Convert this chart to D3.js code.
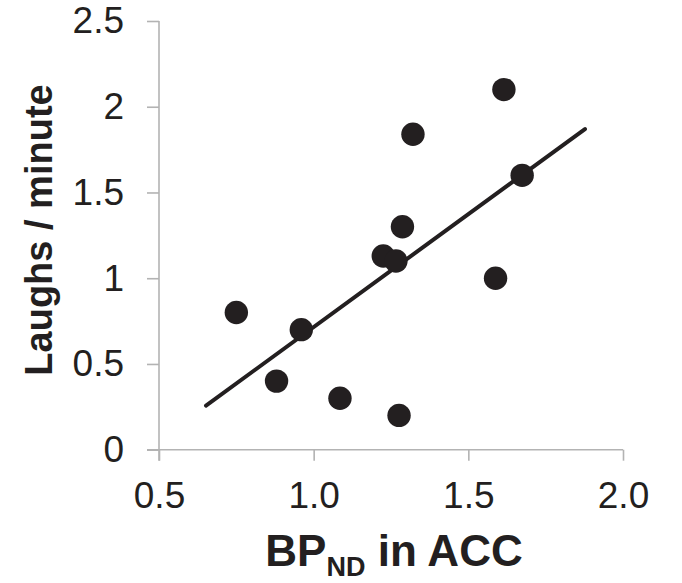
<!DOCTYPE html>
<html><head><meta charset="utf-8">
<script src="https://cdn.jsdelivr.net/npm/d3@7"></script>
<style>body{margin:0;background:#fff}svg{display:block}</style>
</head><body>
<script>
const bpND = [0.75, 0.88, 0.96, 1.085, 1.225, 1.266, 1.287, 1.276, 1.321, 1.588, 1.615, 1.674];
const laughs = [0.80, 0.40, 0.70, 0.30, 1.13, 1.10, 1.30, 0.20, 1.84, 1.00, 2.10, 1.60];
const trendX = [0.652, 1.877];
const trendY = [0.257, 1.870];
const xTicks = [0.5, 1.0, 1.5, 2.0];
const yTicks = [0, 0.5, 1, 1.5, 2, 2.5];

const W = 682, H = 583;
const svg = d3.select("body").append("svg").attr("width", W).attr("height", H);
const x = d3.scaleLinear().domain([0.5, 2.0]).range([159, 623]);
const y = d3.scaleLinear().domain([0, 2.5]).range([449.7, 21]);
const ink = "#231f20", axisCol = "#b3b3b3";
const font = "'Liberation Sans', Arial, sans-serif";

const xa = svg.append("g").attr("transform", `translate(0,${y(0)})`)
  .call(d3.axisBottom(x).tickValues(xTicks).tickFormat(d3.format(".1f")).tickSizeInner(11).tickSizeOuter(0).tickPadding(21));
const ya = svg.append("g").attr("transform", `translate(${x(0.5)},0)`)
  .call(d3.axisLeft(y).tickValues(yTicks).tickFormat(d => String(d)).tickSizeInner(12).tickSizeOuter(0).tickPadding(23));
[xa, ya].forEach(g => {
  g.select(".domain").attr("stroke", axisCol).attr("stroke-width", 1.6);
  g.selectAll(".tick line").attr("stroke", axisCol).attr("stroke-width", 1.6);
  g.selectAll(".tick text").attr("fill", ink).attr("font-family", font).attr("font-size", 37);
});
xa.select(".domain").attr("d", `M${x(0.5)-12},0H${x(2.0)}`);
ya.select(".domain").attr("d", `M0,${y(2.5)}V${y(0)+11}`);

svg.append("line")
  .attr("x1", x(trendX[0])).attr("y1", y(trendY[0]))
  .attr("x2", x(trendX[1])).attr("y2", y(trendY[1]))
  .attr("stroke", ink).attr("stroke-width", 4).attr("stroke-linecap", "round");

svg.append("g").selectAll("circle").data(bpND.map((d, i) => [d, laughs[i]])).join("circle")
  .attr("cx", d => x(d[0])).attr("cy", d => y(d[1])).attr("r", 11.7).attr("fill", ink);

const xt = svg.append("text").attr("x", 394).attr("y", 566).attr("text-anchor", "middle")
  .attr("font-family", font).attr("font-weight", "bold").attr("font-size", 44).attr("fill", ink);
xt.append("tspan").text("BP");
xt.append("tspan").attr("font-size", 27).attr("dy", 10).text("ND");
xt.append("tspan").attr("dy", -10).text(" in ACC");

svg.append("text").attr("transform", "translate(52,230) rotate(-90)").attr("text-anchor", "middle")
  .attr("font-family", font).attr("font-weight", "bold").attr("font-size", 38).attr("fill", ink)
  .text("Laughs / minute");
</script>
</body></html>
